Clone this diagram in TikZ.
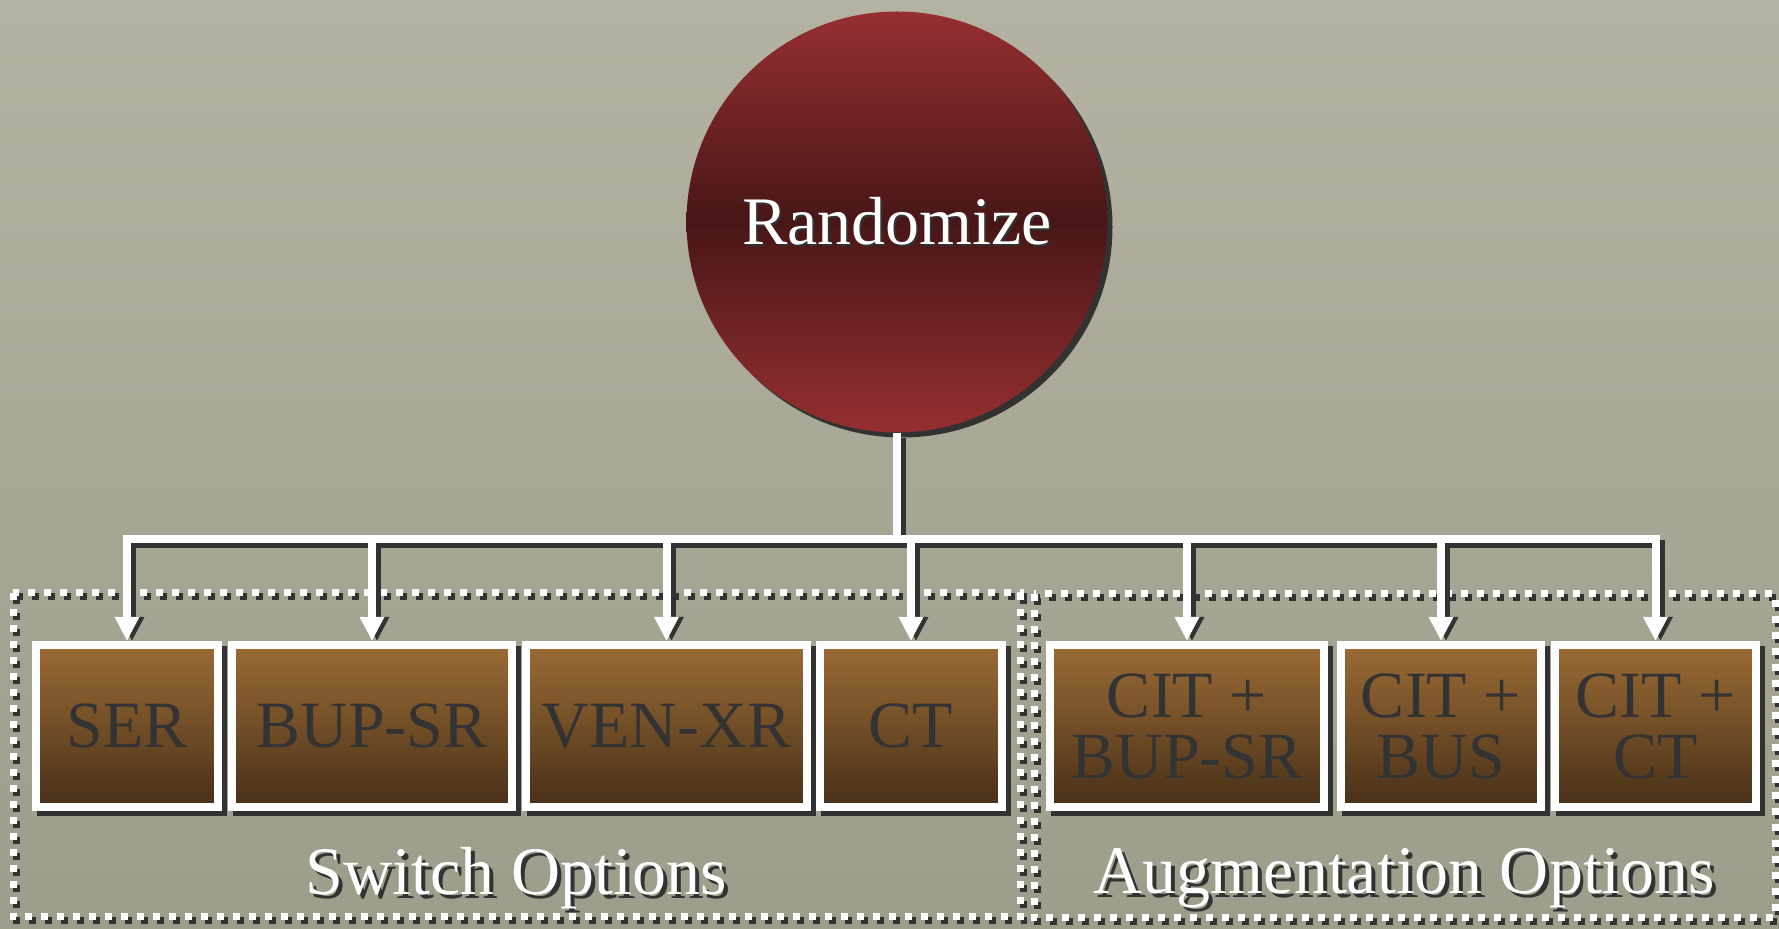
\documentclass[tikz,border=0pt]{standalone}
\usepackage{fontspec}
\setmainfont{Liberation Serif}
\usepackage{tikz}
\usetikzlibrary{arrows.meta, positioning}

\definecolor{slate}{RGB}{180,179,163}
\definecolor{slatedark}{RGB}{158,156,138}
\definecolor{wine}{RGB}{150,47,49}
\definecolor{winedark}{RGB}{72,22,23}
\definecolor{ochre}{RGB}{155,107,53}
\definecolor{ochredark}{RGB}{72,48,24}
\definecolor{ink}{RGB}{51,51,51}
\definecolor{castgray}{RGB}{50,50,50}

% text with a hard offset shadow behind it
\newcommand{\castshadow}[2]{\makebox[0pt][l]{\kern#1\raisebox{-#1}{\color{castgray}#2}}#2}

\begin{document}
\begin{tikzpicture}[
    x=0.5pt, y=-0.5pt,
    topic/.style={circle, minimum size=210.5pt, inner sep=0pt, top color=wine, bottom color=wine, middle color=winedark, text=white, font=\fontsize{34pt}{34pt}\selectfont, preaction={fill=castgray, transform canvas={shift={(2.5pt,-2.5pt)}}}},
    choice/.style={rectangle, draw=white, line width=4pt, minimum height=81pt, inner sep=0pt, top color=ochre, bottom color=ochredark, text=ink, align=center, font=\fontsize{33pt}{30.5pt}\selectfont, preaction={draw=castgray, fill=castgray, transform canvas={shift={(2.5pt,-2.5pt)}}}},
    optgroup/.style={draw=white, line width=3.5pt, dash pattern=on 3.5pt off 4.5pt},
    optgroupshadow/.style={optgroup, draw=castgray, transform canvas={shift={(1.8pt,-1.8pt)}}},
    grouplabel/.style={anchor=base, text=white, font=\fontsize{34pt}{34pt}\selectfont},
    link/.style={draw=white, line width=4pt},
    linkshadow/.style={link, draw=castgray, transform canvas={shift={(2.5pt,-2.5pt)}}},
    feed/.style={link, -{Triangle[width=11.5pt, length=12pt]}},
    feedshadow/.style={linkshadow, shorten >=2.5pt, -{Triangle[width=11.5pt, length=12pt]}}
]

\fill[top color=slate, bottom color=slatedark] (0,0) rectangle (1779,929);
\useasboundingbox (0,0) rectangle (1779,929);

% dotted frames round the two groups
\draw[optgroupshadow] (13,593) rectangle (1020,917);
\draw[optgroupshadow] (1034,594) rectangle (1775,918);
\draw[optgroup] (13,593) rectangle (1020,917);
\draw[optgroup] (1034,594) rectangle (1775,918);

\node[grouplabel] (switchlbl) at (516.5,895) {\castshadow{2pt}{Switch Options}};
\node[grouplabel] (auglbl) at (1404.5,894) {\castshadow{2pt}{Augmentation Options}};

\node[topic] (rand) at (897,222) {\castshadow{1pt}{Randomize}};

% switch options
\node[choice, minimum width=91pt] (ser) at (127,726) {SER};
\node[choice, minimum width=140pt, right=3pt of ser] (bupsr) {BUP-SR};
\node[choice, minimum width=140.5pt, right=3pt of bupsr] (venxr) {VEN-XR};
\node[choice, minimum width=91pt, right=2.5pt of venxr] (ct) {CT};

% augmentation options
\node[choice, minimum width=137pt, right=20pt of ct] (citbupsr) {CIT +\\BUP-SR};
\node[choice, minimum width=100pt, right=4.5pt of citbupsr] (citbus) {CIT +\\BUS};
\node[choice, minimum width=100.5pt, right=3pt of citbus] (citct) {CIT +\\CT};

\coordinate (hub) at (897,539);

\draw[linkshadow] (rand.south) -- (hub);
\foreach \opt in {ser,bupsr,venxr,ct,citbupsr,citbus,citct}
  \draw[feedshadow] (hub) -| (\opt.north);

\draw[link] (rand.south) -- (hub);
\foreach \opt in {ser,bupsr,venxr,ct,citbupsr,citbus,citct}
  \draw[feed] (hub) -| (\opt.north);

\end{tikzpicture}
\end{document}
